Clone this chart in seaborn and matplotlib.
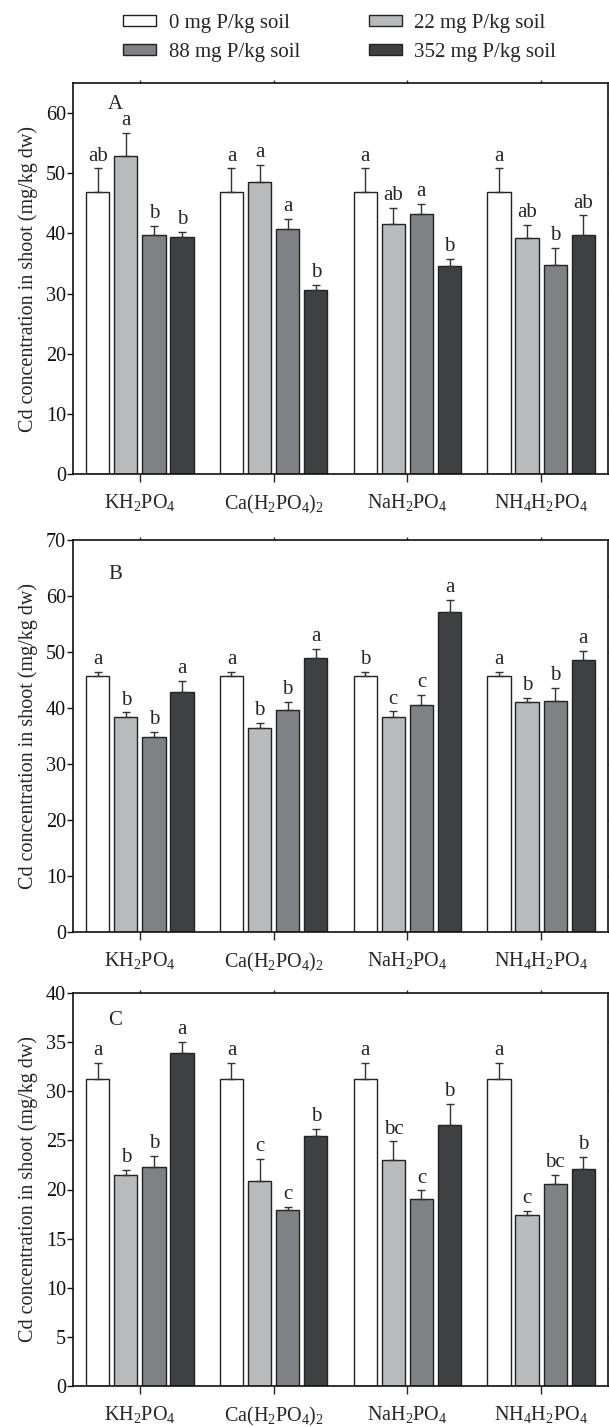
import numpy as np
import pandas as pd
import seaborn as sns
import matplotlib.pyplot as plt
from matplotlib.patches import Patch

sns.set_theme(style='ticks')
plt.rcParams['font.family'] = ['Liberation Serif', 'DejaVu Serif']
plt.rcParams['mathtext.fontset'] = 'custom'
plt.rcParams['mathtext.rm'] = 'Liberation Serif'

# categories
salts = [r'KH$_\mathregular{2}$PO$_\mathregular{4}$',
         r'Ca(H$_\mathregular{2}$PO$_\mathregular{4}$)$_\mathregular{2}$',
         r'NaH$_\mathregular{2}$PO$_\mathregular{4}$',
         r'NH$_\mathregular{4}$H$_\mathregular{2}$PO$_\mathregular{4}$']
doses = ['0 mg P/kg soil', '22 mg P/kg soil', '88 mg P/kg soil', '352 mg P/kg soil']
colors = ['#ffffff', '#b9babc', '#808184', '#3f4042']

# rows = salts, columns = doses
mean_a = [[46.9, 52.8, 39.8, 39.4],
          [46.9, 48.6, 40.7, 30.6],
          [46.9, 41.6, 43.3, 34.6],
          [46.9, 39.3, 34.8, 39.8]]
err_a = [[3.9, 3.9, 1.5, 0.8],
         [3.9, 2.8, 1.7, 0.8],
         [3.9, 2.7, 1.6, 1.1],
         [3.9, 2.1, 2.8, 3.2]]
letters_a = [['ab', 'a', 'b', 'b'],
             ['a', 'a', 'a', 'b'],
             ['a', 'ab', 'a', 'b'],
             ['a', 'ab', 'b', 'ab']]

mean_b = [[45.8, 38.4, 34.9, 42.9],
          [45.8, 36.4, 39.7, 48.9],
          [45.8, 38.4, 40.6, 57.2],
          [45.8, 41.0, 41.3, 48.6]]
err_b = [[0.7, 0.8, 0.9, 1.9],
         [0.7, 1.0, 1.4, 1.7],
         [0.7, 1.0, 1.7, 2.1],
         [0.7, 0.8, 2.3, 1.6]]
letters_b = [['a', 'b', 'b', 'a'],
             ['a', 'b', 'b', 'a'],
             ['b', 'c', 'c', 'a'],
             ['a', 'b', 'b', 'a']]

mean_c = [[31.2, 21.5, 22.3, 33.9],
          [31.2, 20.9, 17.9, 25.4],
          [31.2, 23.0, 19.0, 26.6],
          [31.2, 17.4, 20.6, 22.1]]
err_c = [[1.65, 0.5, 1.1, 1.1],
         [1.65, 2.2, 0.3, 0.8],
         [1.65, 1.9, 0.9, 2.1],
         [1.65, 0.4, 0.9, 1.2]]
letters_c = [['a', 'b', 'b', 'a'],
             ['a', 'c', 'c', 'b'],
             ['a', 'bc', 'c', 'b'],
             ['a', 'c', 'bc', 'b']]

panels = [('A', mean_a, err_a, letters_a, 65, 10),
          ('B', mean_b, err_b, letters_b, 70, 10),
          ('C', mean_c, err_c, letters_c, 40, 5)]

W, H = 609, 1427
fig = plt.figure(figsize=(W / 100, H / 100), dpi=100)
# axes boxes in pixels: (top, bottom)
boxes = [(83, 474), (540, 932), (993, 1386)]
left, right = 73, 608

for (name, means, errs, letters, ymax, step), (top, bot) in zip(panels, boxes):
    ax = fig.add_axes([left / W, (H - bot) / H, (right - left) / W, (bot - top) / H])
    rows = []
    for i, s in enumerate(salts):
        for j, d in enumerate(doses):
            rows.append({'salt': s, 'dose': d, 'value': means[i][j]})
    df = pd.DataFrame(rows)
    sns.barplot(data=df, x='salt', y='value', hue='dose', order=salts, hue_order=doses,
                palette=colors, saturation=1, edgecolor='#222222', linewidth=1.0,
                width=0.84, gap=0.17, errorbar=None, legend=False, ax=ax)

    bar_conts = list(ax.containers)
    for j, cont in enumerate(bar_conts):
        for i, bar in enumerate(cont):
            x = bar.get_x() + bar.get_width() / 2
            ax.errorbar(x, means[i][j], yerr=[[0], [errs[i][j]]], color='#333333',
                        elinewidth=1.0, capsize=3, capthick=1.0, zorder=1)
            ax.annotate(letters[i][j], (x, means[i][j] + errs[i][j]),
                        xytext=(0, 2), textcoords='offset points',
                        ha='center', va='bottom', fontsize=15)

    ax.set_xlim(-0.5, 3.5)
    ax.set_ylim(0, ymax)
    ax.set_yticks(np.arange(0, ymax + 0.1, step))
    ax.set_xlabel('')
    ax.set_ylabel('Cd concentration in shoot (mg/kg dw)', fontsize=14.5, labelpad=6)
    ax.tick_params(axis='y', direction='out', length=4, width=1, labelsize=14.5, pad=1,
                   colors='#111111')
    ax.tick_params(axis='x', direction='out', length=5.5, width=1, labelsize=14.5, pad=8)
    ax.tick_params(top=True, right=True, which='major')
    for t in ax.xaxis.get_major_ticks():
        t.tick2line.set_markersize(2)
    for t in ax.yaxis.get_major_ticks():
        t.tick2line.set_markersize(2)
    for sp in ax.spines.values():
        sp.set_linewidth(1.2)
        sp.set_color('#111111')
    ax.text(0.079, {'A': 0.944, 'B': 0.911, 'C': 0.931}[name], name,
            transform=ax.transAxes, ha='center', va='center', fontsize=15)

# legend fills columns first: column 1 = 0 and 88, column 2 = 22 and 352
handles = [Patch(facecolor=c, edgecolor='#222222', linewidth=1.0) for c in colors]
order = [0, 2, 1, 3]
fig.legend([handles[k] for k in order], [doses[k] for k in order],
           loc='center', bbox_to_anchor=(0.5575, 1 - 38 / H), ncol=2,
           frameon=False, fontsize=15, handlelength=1.6, handleheight=0.45,
           columnspacing=3.3, labelspacing=0.45, handletextpad=0.6)

fig.savefig('out.png', dpi=100)
